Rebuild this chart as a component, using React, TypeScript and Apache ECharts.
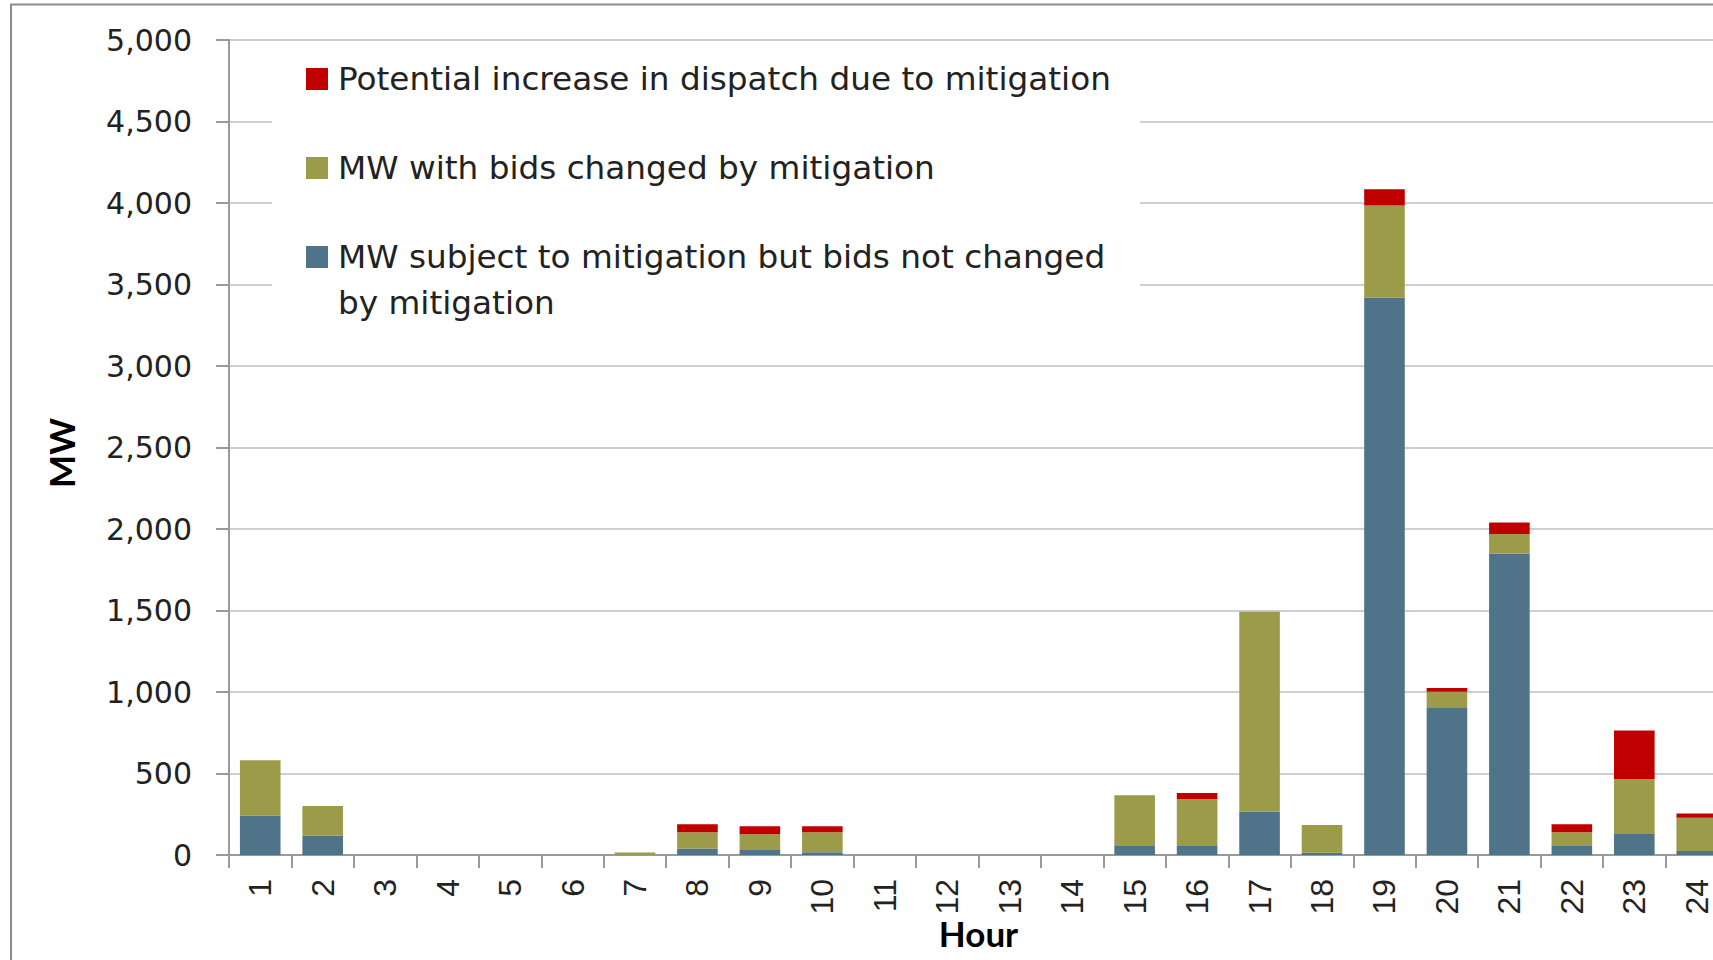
import React, { useEffect, useRef } from "react";
import * as echarts from "echarts";

const hours = ["1","2","3","4","5","6","7","8","9","10","11","12","13","14","15","16","17","18","19","20","21","22","23","24"];
const notChanged = [242,119,0,0,0,0,0,40,30,17,0,0,0,0,60,60,266,14,3420,902,1848,60,129,25];
const bidsChanged = [340,181,0,0,0,0,16,100,98,123,0,0,0,0,307,284,1227,170,565,100,122,80,338,204];
const dispatchIncrease = [0,0,0,0,0,0,0,48,48,36,0,0,0,0,0,36,0,0,100,23,70,49,297,25];

const NAME_RED = "Potential increase in dispatch due to mitigation";
const NAME_OLIVE = "MW with bids changed by mitigation";
const NAME_BLUE = "MW subject to mitigation but bids not changed by mitigation";
const BLUE_LINE1 = "MW subject to mitigation but bids not changed";
const BLUE_LINE2 = "by mitigation";

export default function App() {
  const ref = useRef<HTMLDivElement>(null);
  useEffect(() => {
    if (!ref.current) return;
    const chart = echarts.init(ref.current, null, { renderer: "svg" });
    const barCommon = { type: "bar", stack: "total", barCategoryGap: "35%" };
    chart.setOption({
      animation: false,
      backgroundColor: "#ffffff",
      grid: { left: 229, top: 40, width: 1499, height: 815, outerBoundsMode: "none", containLabel: false },
      legend: {
        orient: "vertical",
        left: 306,
        top: 59,
        padding: 0,
        itemGap: 49,
        itemWidth: 22,
        itemHeight: 22,
        icon: "rect",
        data: [NAME_RED, NAME_OLIVE, NAME_BLUE],
        formatter: (n: string) => (n === NAME_BLUE ? BLUE_LINE1 : n),
        textStyle: { fontFamily: "DejaVu Sans", fontSize: 32.7, color: "#222", lineHeight: 40, padding: [0, 0, 0, 5] },
        z: 10,
      },
      graphic: [
        { type: "rect", z: 0, silent: true, shape: { x: 11, y: 4.5, width: 1800, height: 1000 }, style: { fill: "none", stroke: "#8c8c8c", lineWidth: 2 } },
        { type: "rect", z: 5, silent: true, shape: { x: 272, y: 45, width: 868, height: 292 }, style: { fill: "#ffffff" } },
        { type: "text", z: 11, silent: true, x: 338, y: 302.5, style: { text: BLUE_LINE2, font: "32.7px 'DejaVu Sans'", fill: "#222", verticalAlign: "middle" } },
      ],
      xAxis: {
        type: "category",
        data: hours,
        name: "Hour",
        nameLocation: "middle",
        nameGap: 60,
        nameMoveOverlap: false,
        nameTextStyle: { fontFamily: "Lato", fontWeight: "bold", fontSize: 35, color: "#000" },
        axisLine: { lineStyle: { color: "#9a9a9a", width: 2 } },
        axisTick: { show: true, interval: 0, length: 13, lineStyle: { color: "#9a9a9a", width: 2 } },
        axisLabel: { interval: 0, rotate: 90, margin: 24, fontFamily: "Liberation Sans", fontSize: 32, color: "#222" },
      },
      yAxis: {
        type: "value",
        min: 0,
        max: 5000,
        interval: 500,
        name: "MW",
        nameLocation: "middle",
        nameGap: 151,
        nameRotate: 90,
        nameMoveOverlap: false,
        nameTextStyle: { fontFamily: "Lato", fontWeight: "bold", fontSize: 35, color: "#000", padding: [0, 11, 0, 0] },
        axisLine: { show: true, lineStyle: { color: "#9a9a9a", width: 2 } },
        axisTick: { show: true, length: 13, lineStyle: { color: "#9a9a9a", width: 2 } },
        axisLabel: { margin: 37, fontFamily: "DejaVu Sans", fontSize: 30, color: "#222", formatter: (v: number) => v.toLocaleString("en-US") },
        splitLine: { lineStyle: { color: "#cfcfcf", width: 2 } },
      },
      series: [
        { ...barCommon, name: NAME_BLUE, data: notChanged, itemStyle: { color: "#4f7489" } },
        { ...barCommon, name: NAME_OLIVE, data: bidsChanged, itemStyle: { color: "#9b9b4a" } },
        { ...barCommon, name: NAME_RED, data: dispatchIncrease, itemStyle: { color: "#c00000" } },
      ],
    });
    return () => chart.dispose();
  }, []);
  return <div ref={ref} style={{ position: "absolute", left: 0, top: 0, width: 1713, height: 960, background: "#fff" }} />;
}
